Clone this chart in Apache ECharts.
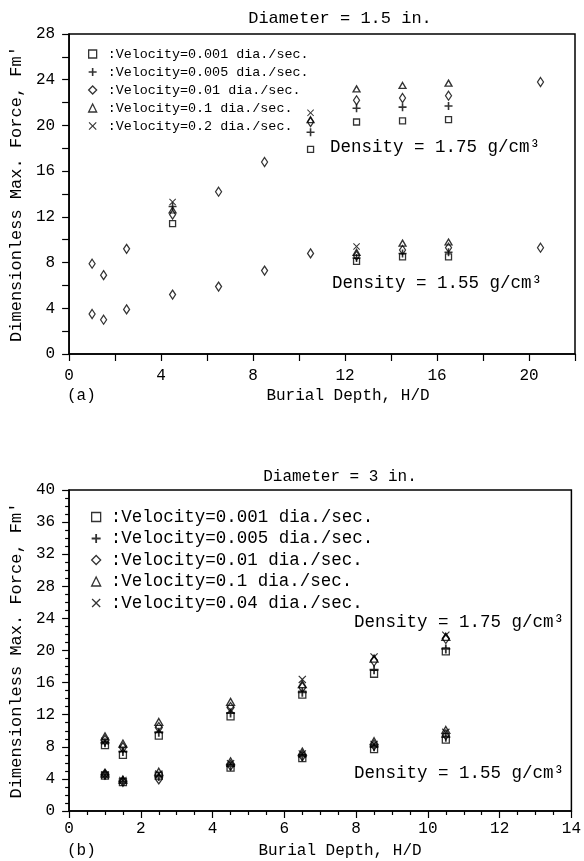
<!DOCTYPE html>
<html>
<head>
<meta charset="utf-8">
<script src="https://cdn.jsdelivr.net/npm/echarts@6/dist/echarts.min.js"></script>
<style>
  html, body { margin: 0; padding: 0; background: #fff; }
  #main { width: 584px; height: 861px; }
</style>
</head>
<body>
<div id="main"></div>
<script>
// ---- (a) Diameter = 1.5 in. ----
// 密度 1.75 / 1.55 两组, 各速度一组 [深度, 力]
var depthA_sq_hi = [4.5, 10.5, 12.5, 14.5, 16.5];
var forceA_sq_hi = [11.4, 17.9, 20.3, 20.4, 20.5];
var depthA_sq_lo = [12.5, 14.5, 16.5];
var forceA_sq_lo = [8.1, 8.5, 8.5];

var depthA_pl_hi = [4.5, 10.5, 12.5, 14.5, 16.5];
var forceA_pl_hi = [12.9, 19.4, 21.5, 21.6, 21.7];
var depthA_pl_lo = [12.5, 14.5, 16.5];
var forceA_pl_lo = [8.4, 8.8, 8.9];

var depthA_di_hi = [1, 1.5, 2.5, 4.5, 6.5, 8.5, 10.5, 12.5, 14.5, 16.5, 20.5];
var forceA_di_hi = [7.9, 6.9, 9.2, 12.2, 14.2, 16.8, 20.3, 22.2, 22.4, 22.6, 23.8];
var depthA_di_lo = [1, 1.5, 2.5, 4.5, 6.5, 8.5, 10.5, 12.5, 14.5, 16.5, 20.5];
var forceA_di_lo = [3.5, 3.0, 3.9, 5.2, 5.9, 7.3, 8.8, 8.6, 9.1, 9.3, 9.3];

var depthA_tr_hi = [4.5, 10.5, 12.5, 14.5, 16.5];
var forceA_tr_hi = [12.6, 20.5, 23.2, 23.5, 23.7];
var depthA_tr_lo = [12.5, 14.5, 16.5];
var forceA_tr_lo = [8.9, 9.7, 9.8];

var depthA_x_hi = [4.5, 10.5];
var forceA_x_hi = [13.3, 21.1];
var depthA_x_lo = [12.5];
var forceA_x_lo = [9.4];

// ---- (b) Diameter = 3 in. ----
var depthB = [1, 1.5, 2.5, 4.5, 6.5, 8.5, 10.5];
var forceB_sq_hi = [8.2, 7.0, 9.4, 11.8, 14.5, 17.1, 19.9];
var forceB_pl_hi = [8.5, 7.4, 9.8, 12.2, 14.8, 17.6, 20.2];
var forceB_di_hi = [8.8, 7.9, 10.4, 12.9, 15.4, 18.7, 21.5];
var forceB_tr_hi = [9.3, 8.4, 11.1, 13.6, 15.8, 19.0, 21.7];
var forceB_x_hi  = [8.7, 7.7, 10.1, 12.6, 16.4, 19.2, 21.9];
var forceB_sq_lo = [4.4, 3.6, 4.4, 5.4, 6.6, 7.7, 8.9];
var forceB_pl_lo = [4.5, 3.7, 4.3, 5.6, 6.8, 8.0, 9.2];
var forceB_di_lo = [4.6, 3.7, 4.0, 5.7, 6.9, 8.2, 9.5];
var forceB_tr_lo = [4.7, 3.9, 4.9, 6.2, 7.4, 8.7, 10.1];
var forceB_x_lo  = [4.5, 3.8, 4.6, 5.9, 7.1, 8.3, 9.8];

var namesA = [':Velocity=0.001 dia./sec.', ':Velocity=0.005 dia./sec.', ':Velocity=0.01 dia./sec.', ':Velocity=0.1 dia./sec.', ':Velocity=0.2 dia./sec.'];
var namesB = [':Velocity=0.001 dia./sec. ', ':Velocity=0.005 dia./sec. ', ':Velocity=0.01 dia./sec. ', ':Velocity=0.1 dia./sec. ', ':Velocity=0.04 dia./sec.'];

var FONT = 'Liberation Mono';
var PLUS = 'path://M4,0L6,0L6,4L10,4L10,6L6,6L6,10L4,10L4,6L0,6L0,4L4,4Z';
var CROSS = 'path://M1,0L5,4L9,0L10,1L6,5L10,9L9,10L5,6L1,10L0,9L4,5L0,1Z';

// 符号样式
var symbols = [
	{ symbol: 'rect', sizeA: [6, 6], sizeB: [7, 7], empty: true },
	{ symbol: PLUS, sizeA: [8, 8], sizeB: [9, 9], empty: false },
	{ symbol: 'diamond', sizeA: [6, 9], sizeB: [7, 10], empty: true },
	{ symbol: 'triangle', sizeA: [7, 6], sizeB: [8, 7], empty: true },
	{ symbol: CROSS, sizeA: [7, 7], sizeB: [8, 8], empty: false }
];

function styleOf(k) {
	if (symbols[k].empty) {
		return { color: 'rgba(255,255,255,0)', borderColor: '#000', borderWidth: 1.3 };
	}
	return { color: '#000', borderWidth: 0 };
}

function pairs(xs, ys) {
	return xs.map(function(x, i) { return [x, ys[i]]; });
}

var seriesA = [
	pairs(depthA_sq_hi, forceA_sq_hi).concat(pairs(depthA_sq_lo, forceA_sq_lo)),
	pairs(depthA_pl_hi, forceA_pl_hi).concat(pairs(depthA_pl_lo, forceA_pl_lo)),
	pairs(depthA_di_hi, forceA_di_hi).concat(pairs(depthA_di_lo, forceA_di_lo)),
	pairs(depthA_tr_hi, forceA_tr_hi).concat(pairs(depthA_tr_lo, forceA_tr_lo)),
	pairs(depthA_x_hi, forceA_x_hi).concat(pairs(depthA_x_lo, forceA_x_lo))
];
var seriesB = [
	pairs(depthB, forceB_sq_hi).concat(pairs(depthB, forceB_sq_lo)),
	pairs(depthB, forceB_pl_hi).concat(pairs(depthB, forceB_pl_lo)),
	pairs(depthB, forceB_di_hi).concat(pairs(depthB, forceB_di_lo)),
	pairs(depthB, forceB_tr_hi).concat(pairs(depthB, forceB_tr_lo)),
	pairs(depthB, forceB_x_hi).concat(pairs(depthB, forceB_x_lo))
];

var series = [];
for (var i = 0; i < 5; i++) {
	series.push({
		name: namesA[i], type: 'scatter', xAxisIndex: 0, yAxisIndex: 0,
		symbol: symbols[i].symbol, symbolSize: symbols[i].sizeA,
		itemStyle: styleOf(i), data: seriesA[i], silent: true
	});
}
for (var i = 0; i < 5; i++) {
	series.push({
		name: namesB[i], type: 'scatter', xAxisIndex: 1, yAxisIndex: 1,
		symbol: symbols[i].symbol, symbolSize: symbols[i].sizeB,
		itemStyle: styleOf(i), data: seriesB[i], silent: true
	});
}

function legendData(names) {
	return names.map(function(n, k) {
		return { name: n, icon: symbols[k].symbol, itemStyle: styleOf(k) };
	});
}

var axisLine = { lineStyle: { color: '#000', width: 1.5 } };
var tickStyle = { color: '#000', width: 1.2 };

var myChart = echarts.init(document.getElementById('main'), null, { renderer: 'canvas' });
var option = {
	backgroundColor: '#fff',
	animation: false,
	textStyle: { fontFamily: FONT, color: '#000' },
	grid: [
		{ left: 68, top: 34, width: 507, height: 320, show: true, borderColor: '#000', borderWidth: 1.5 },
		{ left: 67, top: 490, width: 509, height: 321, show: true, borderColor: '#000', borderWidth: 1.5 }
	],
	legend: [{
		orient: 'vertical', left: 83, top: 42, itemWidth: 8, itemHeight: 8, itemGap: 4,
		selectedMode: false, data: legendData(namesA),
		textStyle: { fontFamily: FONT, fontSize: 13.4, lineHeight: 14, color: '#000', padding: [0, 0, 0, 6] }
	}, {
		orient: 'vertical', left: 86, top: 503, itemWidth: 9, itemHeight: 9, itemGap: 3.5,
		selectedMode: false, data: legendData(namesB),
		textStyle: { fontFamily: FONT, fontSize: 17.5, lineHeight: 17.5, color: '#000', padding: [0, 0, 0, 5] }
	}],
	xAxis: [{
		gridIndex: 0, type: 'value', min: 0, max: 22, interval: 2,
		axisLine: axisLine,
		axisTick: { inside: false, length: 7, lineStyle: tickStyle },
		axisLabel: { fontFamily: FONT, fontSize: 16, color: '#000', margin: 14,
			formatter: function(v) { return v % 4 === 0 ? String(v) : ''; } },
		splitLine: { show: false }
	}, {
		gridIndex: 1, type: 'value', min: 0, max: 14, interval: 2,
		axisLine: axisLine,
		axisTick: { inside: false, length: 7, lineStyle: tickStyle },
		minorTick: { show: true, splitNumber: 4, length: 4, lineStyle: tickStyle },
		axisLabel: { fontFamily: FONT, fontSize: 16, color: '#000', margin: 10 },
		splitLine: { show: false }
	}],
	yAxis: [{
		gridIndex: 0, type: 'value', min: 0, max: 28, interval: 2,
		name: "Dimensionless Max. Force, Fm'", nameLocation: 'middle', nameGap: 38,
		nameTextStyle: { fontFamily: FONT, fontSize: 17, color: '#000' },
		axisLine: axisLine,
		axisTick: { inside: false, length: 7, lineStyle: tickStyle },
		axisLabel: { fontFamily: FONT, fontSize: 16, color: '#000', margin: 14,
			formatter: function(v) { return v % 4 === 0 ? String(v) : ''; } },
		splitLine: { show: false }
	}, {
		gridIndex: 1, type: 'value', min: 0, max: 40, interval: 4,
		name: "Dimensionless Max. Force, Fm'", nameLocation: 'middle', nameGap: 38,
		nameTextStyle: { fontFamily: FONT, fontSize: 17, color: '#000' },
		axisLine: axisLine,
		axisTick: { inside: false, length: 7, lineStyle: tickStyle },
		minorTick: { show: true, splitNumber: 4, length: 4, lineStyle: tickStyle },
		axisLabel: { fontFamily: FONT, fontSize: 16, color: '#000', margin: 14 },
		splitLine: { show: false }
	}],
	graphic: [
		{ type: 'text', x: 340, y: 18, style: { text: 'Diameter = 1.5 in.', font: '17px "Liberation Mono"', fill: '#000', align: 'center', verticalAlign: 'middle' } },
		{ type: 'text', x: 340, y: 477, style: { text: 'Diameter = 3 in.', font: '16px "Liberation Mono"', fill: '#000', align: 'center', verticalAlign: 'middle' } },
		{ type: 'text', x: 330, y: 147, style: { text: 'Density = 1.75 g/cm³', font: '17.5px "Liberation Mono"', fill: '#000', verticalAlign: 'middle' } },
		{ type: 'text', x: 332, y: 283, style: { text: 'Density = 1.55 g/cm³', font: '17.5px "Liberation Mono"', fill: '#000', verticalAlign: 'middle' } },
		{ type: 'text', x: 354, y: 622, style: { text: 'Density = 1.75 g/cm³', font: '17.5px "Liberation Mono"', fill: '#000', verticalAlign: 'middle' } },
		{ type: 'text', x: 354, y: 773, style: { text: 'Density = 1.55 g/cm³', font: '17.5px "Liberation Mono"', fill: '#000', verticalAlign: 'middle' } },
		{ type: 'text', x: 348, y: 396, style: { text: 'Burial Depth, H/D', font: '16px "Liberation Mono"', fill: '#000', align: 'center', verticalAlign: 'middle' } },
		{ type: 'text', x: 340, y: 851, style: { text: 'Burial Depth, H/D', font: '16px "Liberation Mono"', fill: '#000', align: 'center', verticalAlign: 'middle' } },
		{ type: 'text', x: 67, y: 396, style: { text: '(a)', font: '16px "Liberation Mono"', fill: '#000', verticalAlign: 'middle' } },
		{ type: 'text', x: 67, y: 851, style: { text: '(b)', font: '16px "Liberation Mono"', fill: '#000', verticalAlign: 'middle' } }
	],
	series: series
};
myChart.setOption(option);
</script>
</body>
</html>
